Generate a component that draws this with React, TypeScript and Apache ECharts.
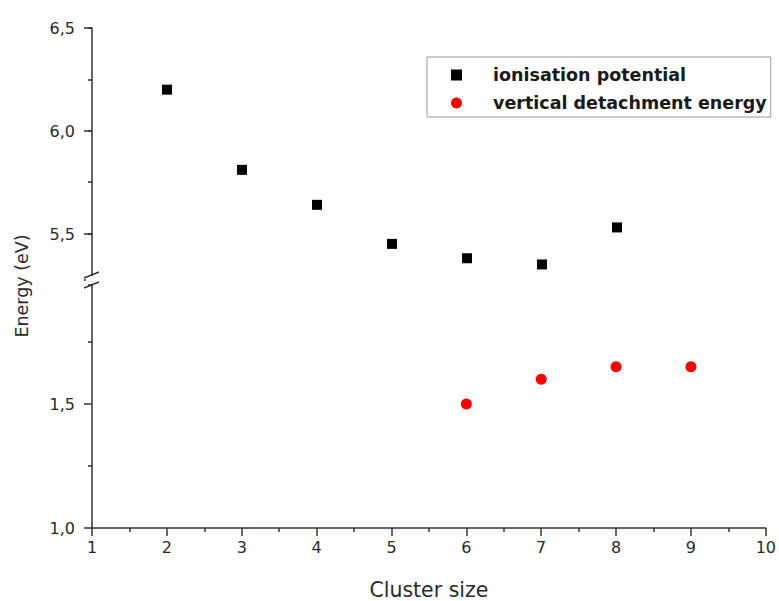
import React, { useEffect, useRef } from "react";
import * as echarts from "echarts";

const clusterSizesIP = [2, 3, 4, 5, 6, 7, 8];
const ionisationPotential = [6.2, 5.81, 5.64, 5.45, 5.38, 5.35, 5.53];
const clusterSizesVDE = [6, 7, 8, 9];
const verticalDetachment = [1.5, 1.6, 1.65, 1.65];
const seriesNames = ["ionisation potential", "vertical detachment energy"];

const FONT = "DejaVu Sans, Liberation Sans, sans-serif";
const AXIS_COLOR = "#333333";
const LABEL_COLOR = "#2a2a2a";

const fmt = (v: number) => v.toFixed(1).replace(".", ",");

export default function App() {
  const ref = useRef<HTMLDivElement>(null);
  useEffect(() => {
    if (!ref.current) return;
    const chart = echarts.init(ref.current, null, { renderer: "svg" });
    const hiddenX = (gridIndex: number) => ({
      type: "value",
      gridIndex,
      min: 1,
      max: 10,
      show: false,
    });
    const tickLabel = { fontFamily: FONT, fontSize: 16, color: LABEL_COLOR };
    chart.setOption({
      animation: false,
      backgroundColor: "#ffffff",
      grid: [
        { left: 92, right: 12, top: 28, height: 257 },
        { left: 92, right: 12, top: 28, height: 206 },
        { left: 92, right: 12, top: 280, height: 250 },
      ],
      xAxis: [
        hiddenX(0),
        hiddenX(1),
        {
          type: "value",
          gridIndex: 2,
          min: 1,
          max: 10,
          interval: 1,
          name: "Cluster size",
          nameLocation: "middle",
          nameGap: 51,
          nameTextStyle: { fontFamily: FONT, fontSize: 20.5, color: LABEL_COLOR },
          axisLine: { show: true, lineStyle: { color: AXIS_COLOR, width: 1.5 } },
          axisTick: { show: true, length: 8, lineStyle: { color: AXIS_COLOR, width: 1.5 } },
          minorTick: { show: true, splitNumber: 2, length: 4, lineStyle: { color: AXIS_COLOR, width: 1.5 } },
          splitLine: { show: false },
          axisLabel: { margin: 11, ...tickLabel },
        },
      ],
      yAxis: [
        {
          type: "value",
          gridIndex: 0,
          min: 5.25,
          max: 6.5,
          interval: 0.25,
          axisLine: { show: true, lineStyle: { color: AXIS_COLOR, width: 1.5 } },
          axisTick: { show: true, length: 4, lineStyle: { color: AXIS_COLOR, width: 1.5 } },
          axisLabel: { show: false },
          splitLine: { show: false },
        },
        {
          type: "value",
          gridIndex: 1,
          min: 5.5,
          max: 6.5,
          interval: 0.5,
          axisLine: { show: false },
          axisTick: { show: true, length: 8, lineStyle: { color: AXIS_COLOR, width: 1.5 } },
          axisLabel: { margin: 17, ...tickLabel, formatter: (v: number) => fmt(v) },
          splitLine: { show: false },
        },
        {
          type: "value",
          gridIndex: 2,
          min: 1.0,
          max: 2.0,
          interval: 0.5,
          axisLine: { show: true, lineStyle: { color: AXIS_COLOR, width: 1.5 } },
          axisTick: { show: true, length: 8, lineStyle: { color: AXIS_COLOR, width: 1.5 } },
          minorTick: { show: true, splitNumber: 2, length: 4, lineStyle: { color: AXIS_COLOR, width: 1.5 } },
          axisLabel: {
            margin: 17,
            ...tickLabel,
            formatter: (v: number) => (v >= 2 ? "" : fmt(v)),
          },
          splitLine: { show: false },
        },
      ],
      legend: {
        orient: "vertical",
        left: 427,
        top: 57,
        padding: [9, 4, 5, 24],
        itemGap: 10,
        itemWidth: 11,
        itemHeight: 11,
        borderColor: "#9a9a9a",
        borderWidth: 1,
        backgroundColor: "#ffffff",
        textStyle: {
          fontFamily: FONT,
          fontSize: 17.5,
          fontWeight: "bold",
          color: "#1a1a1a",
          padding: [0, 0, 0, 26],
        },
        data: [
          { name: seriesNames[0], icon: "rect" },
          { name: seriesNames[1], icon: "circle" },
        ],
      },
      graphic: [
        {
          type: "text",
          x: 22,
          y: 286,
          rotation: Math.PI / 2,
          style: {
            text: "Energy (eV)",
            fontFamily: FONT,
            fontSize: 17.5,
            fill: LABEL_COLOR,
            align: "center",
            verticalAlign: "middle",
          },
        },
        {
          type: "rect",
          shape: { x: 86, y: 276, width: 12, height: 8 },
          style: { fill: "#ffffff" },
          z: 100,
        },
        {
          type: "line",
          shape: { x1: 84, y1: 278, x2: 99, y2: 272 },
          style: { stroke: AXIS_COLOR, lineWidth: 1.5 },
          z: 101,
        },
        {
          type: "line",
          shape: { x1: 84, y1: 288, x2: 99, y2: 282 },
          style: { stroke: AXIS_COLOR, lineWidth: 1.5 },
          z: 101,
        },
      ],
      series: [
        {
          name: seriesNames[0],
          type: "scatter",
          xAxisIndex: 0,
          yAxisIndex: 0,
          symbol: "rect",
          symbolSize: 10,
          itemStyle: { color: "#000000", opacity: 1 },
          data: clusterSizesIP.map((x, i) => [x, ionisationPotential[i]]),
        },
        {
          name: seriesNames[1],
          type: "scatter",
          xAxisIndex: 2,
          yAxisIndex: 2,
          symbol: "circle",
          symbolSize: 11,
          itemStyle: { color: "#ff0000", opacity: 1 },
          data: clusterSizesVDE.map((x, i) => [x, verticalDetachment[i]]),
        },
      ],
    });
    return () => chart.dispose();
  }, []);
  return <div ref={ref} style={{ width: 779, height: 601, position: "absolute", left: 0, top: 0 }} />;
}
